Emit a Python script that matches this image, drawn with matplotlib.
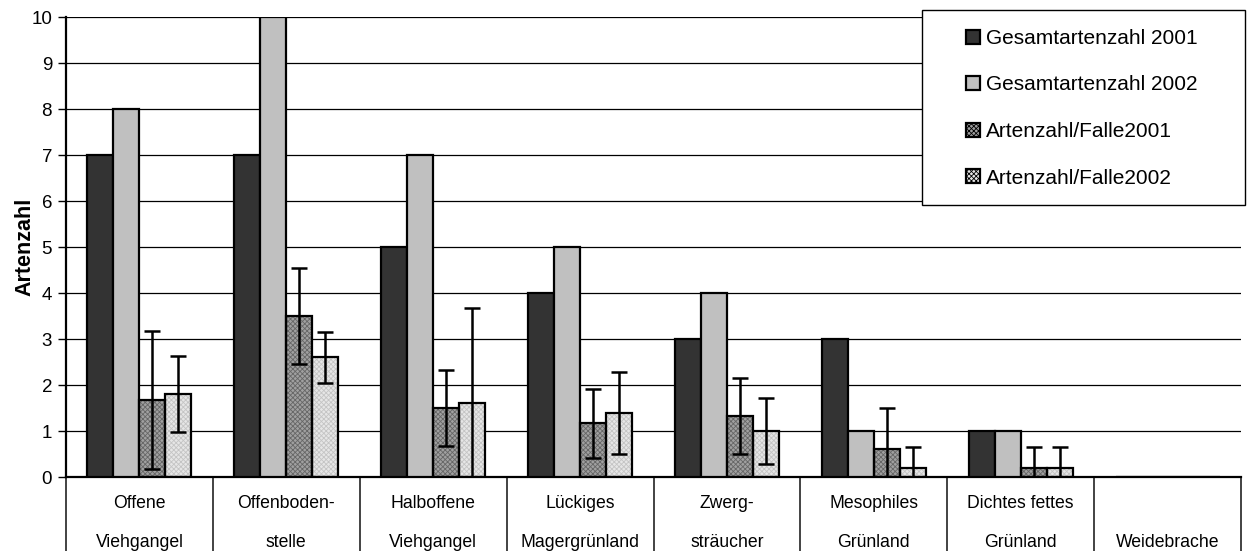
import matplotlib
matplotlib.use("Agg")
import matplotlib.pyplot as plt
from matplotlib.patches import Patch, Rectangle
import numpy as np

plt.rcParams['font.family'] = ['Liberation Sans', 'DejaVu Sans']
plt.rcParams['hatch.linewidth'] = 0.6

categories = ["Offene\nViehgangel", "Offenboden-\nstelle", "Halboffene\nViehgangel",
              "Lückiges\nMagergrünland", "Zwerg-\nsträucher", "Mesophiles\nGrünland",
              "Dichtes fettes\nGrünland", "\nWeidebrache"]
series_names = ["Gesamtartenzahl 2001", "Gesamtartenzahl 2002",
                "Artenzahl/Falle2001", "Artenzahl/Falle2002"]
gesamt_2001 = [7, 7, 5, 4, 3, 3, 1, 0]
gesamt_2002 = [8, 10, 7, 5, 4, 1, 1, 0]
falle_2001 = [1.67, 3.5, 1.5, 1.17, 1.33, 0.6, 0.2, 0]
falle_2002 = [1.8, 2.6, 1.6, 1.4, 1.0, 0.2, 0.2, 0]
falle_2001_err = [1.5, 1.05, 0.83, 0.75, 0.82, 0.9, 0.45, np.nan]
falle_2002_err = [0.83, 0.55, 2.07, 0.89, 0.71, 0.45, 0.45, 0.0]

yticks = list(range(0, 11))

fig = plt.figure(figsize=(12.48, 5.51), dpi=100)
ax = fig.add_axes([66/1248, 1-477/551, (1241-66)/1248, (477-17)/551])

n = len(categories)
x = np.arange(n)
bw = 0.177
offsets = np.array([-1.5, -0.5, 0.5, 1.5]) * bw

series = [gesamt_2001, gesamt_2002, falle_2001, falle_2002]
faces = ['#333333', '#c0c0c0', '#a0a0a0', '#e6e6e6']
hatchcols = [None, None, '#666666', '#c4c4c4']
hatches = [None, None, 'xxxxxxx', 'xxxxxxx']
for i, vals in enumerate(series):
    if hatches[i]:
        ax.bar(x + offsets[i], vals, bw, color=faces[i], edgecolor=hatchcols[i],
               hatch=hatches[i], linewidth=0, zorder=2)
        ax.bar(x + offsets[i], vals, bw, facecolor='none', edgecolor='black',
               linewidth=1.6, zorder=3)
    else:
        ax.bar(x + offsets[i], vals, bw, color=faces[i], edgecolor='black',
               linewidth=1.6, zorder=3)

ax.errorbar(x + offsets[2], falle_2001, yerr=falle_2001_err, fmt='none', ecolor='black',
            elinewidth=1.8, capsize=5.5, capthick=1.8, zorder=4)
ax.errorbar(x + offsets[3], falle_2002, yerr=falle_2002_err, fmt='none', ecolor='black',
            elinewidth=1.8, capsize=5.5, capthick=1.8, zorder=4)

ax.set_ylim(0, 10)
ax.set_xlim(-0.5, n - 0.5)
ax.set_yticks(yticks)
ax.yaxis.grid(True, color='black', linewidth=0.9, zorder=0)
ax.set_axisbelow(True)
ax.tick_params(axis='y', direction='out', length=6, width=1, labelsize=13.5, pad=4)

ax.set_xticks(np.arange(n + 1) - 0.5)
ax.set_xticklabels([])
ax.tick_params(axis='x', which='major', direction='out', length=60, width=1.2, color='#222222')
ax.set_xticks(x, minor=True)
ax.set_xticklabels(categories, minor=True, fontsize=12.7, linespacing=2.65)
ax.tick_params(axis='x', which='minor', length=0, pad=13)

for s in ['top', 'right']:
    ax.spines[s].set_visible(False)
ax.spines['left'].set_linewidth(1.6)
ax.spines['bottom'].set_linewidth(1.6)

ax.set_ylabel('Artenzahl', fontsize=15.5, fontweight='bold', labelpad=-3)

# legend frame
W, H = 1248, 551
frame = Rectangle((922/W, 1-205/H), (1245-922)/W, (205-10)/H, transform=fig.transFigure,
                  facecolor='white', edgecolor='black', linewidth=1.0, zorder=5)
fig.patches.append(frame)

handles = []
for i in range(4):
    if hatches[i]:
        p = Patch(facecolor=faces[i], edgecolor='black', hatch=hatches[i], linewidth=1.6)
    else:
        p = Patch(facecolor=faces[i], edgecolor='black', linewidth=1.6)
    handles.append(p)

leg = fig.legend(handles, series_names, loc='upper left', bbox_to_anchor=(966/W, 1-29/H),
                 frameon=False, fontsize=15, handlelength=0.68, handleheight=0.68,
                 handletextpad=0.3, labelspacing=1.32, borderpad=0, borderaxespad=0)
leg.set_zorder(6)

fig.savefig('out.png', dpi=100)
